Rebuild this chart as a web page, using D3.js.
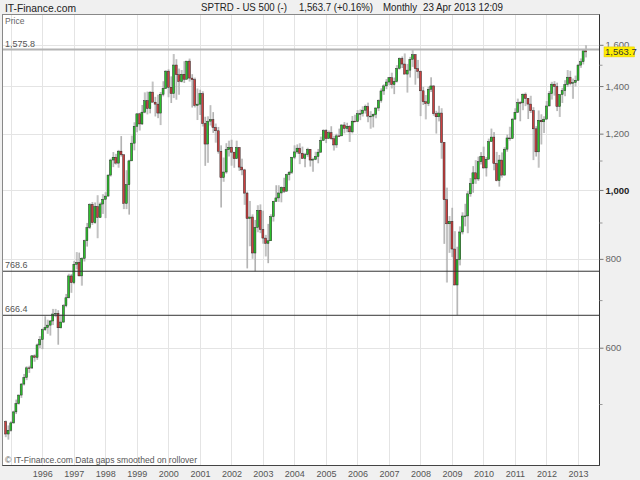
<!DOCTYPE html>
<meta charset="utf-8">
<style>
body { margin: 0; background: #f0f0f0; }
svg { display: block; font-family: "Liberation Sans", Arial, sans-serif; }
</style>
<body>
<script src="https://cdnjs.cloudflare.com/ajax/libs/d3/7.8.5/d3.min.js"></script>
<script>
// monthly candles, Nov 1994 .. Apr 2013
var firstMonth = [1994, 10];
var firstOpen = 472.4;

var closes = [
  453.7, 459.3,
  470.4, 487.4, 500.7, 514.7, 533.4, 544.8, 562.1, 561.9, 584.4, 581.5, 605.4, 615.9,
  636.0, 640.4, 645.5, 654.2, 669.1, 670.6, 640.0, 652.0, 687.3, 705.3, 757.0, 740.7,
  786.2, 790.8, 757.1, 801.3, 848.3, 885.1, 954.3, 899.5, 947.3, 914.6, 955.4, 970.4,
  980.3, 1049.3, 1101.8, 1111.8, 1090.8, 1133.8, 1120.7, 957.3, 1017.0, 1098.7, 1163.6, 1229.2,
  1279.6, 1238.3, 1286.4, 1335.2, 1301.8, 1372.7, 1328.7, 1320.4, 1282.7, 1362.9, 1388.9, 1469.3,
  1394.5, 1366.4, 1498.6, 1452.4, 1420.6, 1454.6, 1430.8, 1517.7, 1436.5, 1429.4, 1315.0, 1320.3,
  1366.0, 1239.9, 1160.3, 1249.5, 1255.8, 1224.4, 1211.2, 1133.6, 1040.9, 1059.8, 1139.5, 1148.1,
  1130.2, 1106.7, 1147.4, 1076.9, 1067.1, 989.8, 911.6, 916.1, 815.3, 885.8, 936.3, 879.8,
  855.7, 841.2, 848.2, 916.9, 963.6, 974.5, 990.3, 1008.0, 996.0, 1050.7, 1058.2, 1111.9,
  1131.1, 1144.9, 1126.2, 1107.3, 1120.7, 1140.8, 1101.7, 1104.2, 1114.6, 1130.2, 1173.8, 1211.9,
  1181.3, 1203.6, 1180.6, 1156.9, 1191.5, 1191.3, 1234.2, 1220.3, 1228.8, 1207.0, 1249.5, 1248.3,
  1280.1, 1280.7, 1294.8, 1310.6, 1270.1, 1270.2, 1276.7, 1303.8, 1335.9, 1377.9, 1400.6, 1418.3,
  1438.2, 1406.8, 1420.9, 1482.4, 1530.6, 1503.4, 1455.3, 1474.0, 1526.8, 1549.4, 1481.1, 1468.4,
  1378.6, 1330.6, 1322.7, 1385.6, 1400.4, 1280.0, 1267.4, 1282.8, 1166.4, 968.8, 896.2, 903.3,
  825.9, 735.1, 797.9, 872.8, 919.1, 919.3, 987.5, 1020.6, 1057.1, 1036.2, 1095.6, 1115.1,
  1073.9, 1104.5, 1169.4, 1186.7, 1089.4, 1030.7, 1101.6, 1049.3, 1141.2, 1183.3, 1180.6, 1257.6,
  1286.1, 1327.2, 1325.8, 1363.6, 1345.2, 1320.6, 1292.3, 1218.9, 1131.4, 1253.3, 1247.0, 1257.6,
  1312.4, 1365.7, 1408.5, 1397.9, 1310.3, 1362.2, 1379.3, 1406.6, 1440.7, 1412.2, 1416.2, 1426.2,
  1498.1, 1514.7, 1569.2, 1563.7
];

var highs = [
  474.0, 466.5,
  472.8, 489.2, 507.2, 515.3, 534.9, 551.1, 565.0, 565.9, 585.7, 587.1, 608.0, 622.9,
  638.5, 664.2, 656.9, 656.3, 680.3, 680.3, 677.5, 668.2, 690.9, 714.1, 762.3, 761.8,
  794.7, 817.7, 816.3, 804.1, 851.1, 898.7, 957.7, 961.6, 960.3, 983.1, 960.4, 986.3,
  992.7, 1051.0, 1106.6, 1130.5, 1124.0, 1138.5, 1190.6, 1121.0, 1066.1, 1102.6, 1192.3, 1244.9,
  1280.4, 1283.8, 1316.6, 1371.6, 1375.0, 1376.1, 1420.3, 1351.8, 1361.3, 1373.2, 1422.0, 1473.0,
  1478.0, 1444.6, 1552.9, 1527.2, 1481.5, 1474.6, 1517.3, 1518.5, 1530.1, 1454.8, 1438.5, 1389.1,
  1383.4, 1376.4, 1267.4, 1269.3, 1315.9, 1286.6, 1239.8, 1226.3, 1155.4, 1110.6, 1163.4, 1173.0,
  1176.6, 1130.2, 1173.0, 1147.8, 1106.6, 1070.7, 994.5, 965.0, 924.0, 907.4, 951.6, 954.3,
  935.1, 864.6, 895.9, 924.2, 965.4, 1015.3, 1015.4, 1011.0, 1040.3, 1053.8, 1063.6, 1112.6,
  1155.4, 1158.9, 1163.2, 1150.6, 1127.7, 1146.3, 1140.8, 1109.7, 1131.5, 1142.0, 1188.5, 1217.3,
  1217.8, 1212.4, 1229.1, 1191.9, 1199.6, 1219.6, 1236.2, 1245.9, 1243.1, 1233.3, 1270.6, 1275.8,
  1294.9, 1297.6, 1310.9, 1318.2, 1326.7, 1290.7, 1280.4, 1306.7, 1340.3, 1389.5, 1407.9, 1431.8,
  1441.6, 1461.6, 1438.9, 1498.0, 1535.6, 1540.6, 1555.9, 1503.9, 1538.7, 1576.1, 1552.8, 1523.6,
  1471.8, 1396.0, 1359.7, 1397.0, 1440.2, 1404.1, 1292.2, 1313.2, 1303.0, 1167.0, 1007.5, 918.9,
  943.9, 875.0, 832.0, 888.7, 930.2, 956.2, 996.7, 1039.5, 1080.2, 1101.4, 1113.7, 1130.4,
  1150.5, 1112.4, 1180.7, 1219.8, 1206.0, 1131.2, 1120.0, 1129.2, 1148.7, 1196.1, 1227.1, 1262.6,
  1302.7, 1344.1, 1332.3, 1366.1, 1370.6, 1345.2, 1356.5, 1307.4, 1229.3, 1293.5, 1277.6, 1269.4,
  1333.5, 1378.0, 1419.2, 1422.4, 1415.3, 1363.5, 1391.7, 1426.7, 1474.5, 1470.9, 1434.3, 1448.0,
  1504.2, 1530.9, 1570.3, 1597.4
];

var lows = [
  449.1, 445.5,
  457.2, 469.0, 484.0, 499.2, 510.0, 530.9, 540.2, 553.0, 560.1, 573.4, 576.9, 599.4,
  597.3, 633.8, 627.6, 624.1, 645.6, 662.4, 605.9, 638.5, 650.0, 684.0, 703.8, 716.7,
  737.0, 773.4, 756.1, 733.5, 793.2, 832.5, 881.3, 893.0, 896.5, 855.3, 914.6, 925.3,
  912.8, 979.8, 1044.4, 1076.7, 1085.7, 1074.7, 1114.3, 939.9, 939.9, 923.3, 1098.7, 1136.9,
  1205.5, 1212.2, 1234.6, 1282.0, 1277.3, 1281.4, 1328.8, 1268.7, 1261.7, 1233.7, 1354.1, 1387.4,
  1350.1, 1325.1, 1346.6, 1339.4, 1361.1, 1416.6, 1413.9, 1431.9, 1420.4, 1305.8, 1306.2, 1254.1,
  1274.6, 1228.3, 1081.2, 1091.9, 1232.0, 1203.0, 1165.5, 1124.9, 944.8, 1026.8, 1054.3, 1114.5,
  1081.7, 1074.4, 1106.7, 1063.5, 1048.9, 952.9, 775.7, 833.4, 800.2, 768.6, 872.1, 869.5,
  840.3, 806.3, 788.9, 847.9, 902.8, 963.6, 962.1, 960.8, 990.4, 996.0, 1031.2, 1053.4,
  1105.1, 1124.4, 1087.2, 1106.9, 1076.3, 1113.3, 1078.8, 1060.7, 1101.3, 1090.2, 1127.6, 1173.8,
  1163.8, 1180.9, 1176.8, 1136.2, 1146.2, 1188.3, 1191.3, 1201.1, 1205.4, 1168.2, 1201.1, 1246.6,
  1245.7, 1253.6, 1268.4, 1280.7, 1245.3, 1219.3, 1224.5, 1261.3, 1290.9, 1326.9, 1360.7, 1385.9,
  1403.9, 1389.0, 1363.8, 1416.4, 1476.7, 1484.2, 1454.3, 1370.6, 1439.3, 1489.6, 1406.1, 1435.6,
  1270.1, 1316.8, 1256.9, 1312.0, 1373.1, 1272.0, 1200.4, 1248.6, 1106.4, 839.8, 741.0, 815.7,
  804.5, 734.5, 666.8, 783.3, 866.1, 888.9, 869.3, 978.5, 991.0, 1019.9, 1029.4, 1085.9,
  1071.6, 1044.5, 1105.4, 1170.7, 1065.8, 1028.3, 1010.9, 1040.8, 1048.2, 1131.9, 1173.0, 1186.6,
  1257.6, 1282.9, 1249.1, 1294.7, 1311.8, 1258.1, 1282.9, 1101.5, 1114.2, 1074.8, 1158.7, 1202.4,
  1258.9, 1312.4, 1340.0, 1357.4, 1291.0, 1266.7, 1325.4, 1354.7, 1396.6, 1403.3, 1343.4, 1398.1,
  1426.2, 1485.0, 1501.5, 1536.0
];

var yearLabels = [1996, 1997, 1998, 1999, 2000, 2001, 2002, 2003, 2004, 2005,
                  2006, 2007, 2008, 2009, 2010, 2011, 2012, 2013];
var gridYears = [1995].concat(yearLabels);
var priceTicks = [600, 800, 1000, 1200, 1400, 1600];
var minorTicks = [500, 700, 900, 1100, 1500];
var levels = [1575.8, 768.6, 666.4];
var lastPrice = 1563.7;

var W = 640, H = 480;
var pLeft = 2.5, pRight = 599.5, pTop = 14.5, pBottom = 465.5;

var x = d3.scaleTime()
  .domain([new Date(1996, 0, 1), new Date(2013, 0, 1)])
  .range([42.3, 578]);
var y = d3.scaleLog()
  .domain([410, 1765])
  .range([465.3, 14.5]);

var candles = closes.map(function(c, i) {
  return {
    date: new Date(firstMonth[0], firstMonth[1] + i, 1),
    open: i ? closes[i - 1] : firstOpen,
    high: highs[i],
    low: lows[i],
    close: c
  };
});

var svg = d3.select("body").append("svg")
  .attr("width", W)
  .attr("height", H);

svg.append("rect").attr("width", W).attr("height", H).attr("fill", "#f0f0f0");

svg.append("defs").append("clipPath").attr("id", "plot")
  .append("rect")
  .attr("x", pLeft).attr("y", pTop)
  .attr("width", pRight - pLeft).attr("height", pBottom - pTop);

svg.append("rect")
  .attr("x", pLeft).attr("y", pTop)
  .attr("width", pRight - pLeft).attr("height", pBottom - pTop)
  .attr("fill", "#fff");

// grid
var snap = function(v) { return Math.round(v) + 0.5; };
svg.append("g").selectAll("line")
  .data(gridYears)
  .enter().append("line")
  .attr("x1", function(d) { return snap(x(new Date(d, 0, 1))); })
  .attr("x2", function(d) { return snap(x(new Date(d, 0, 1))); })
  .attr("y1", pTop).attr("y2", pBottom)
  .attr("stroke", "#e4e4e4");

svg.append("g").selectAll("line")
  .data(priceTicks)
  .enter().append("line")
  .attr("x1", pLeft).attr("x2", pRight)
  .attr("y1", function(d) { return snap(y(d)); })
  .attr("y2", function(d) { return snap(y(d)); })
  .attr("stroke", "#e4e4e4");

// candles
var cg = svg.append("g").attr("clip-path", "url(#plot)");
var bw = 2;

cg.selectAll("line.wick")
  .data(candles)
  .enter().append("line")
  .attr("class", "wick")
  .attr("x1", function(d) { return x(d.date) + 0.6; })
  .attr("x2", function(d) { return x(d.date) + 0.6; })
  .attr("y1", function(d) { return y(d.high); })
  .attr("y2", function(d) { return y(d.low); })
  .attr("stroke", "#b4b4b4")
  .attr("stroke-width", 1);

cg.selectAll("line.wick2")
  .data(candles)
  .enter().append("line")
  .attr("class", "wick2")
  .attr("x1", function(d) { return x(d.date) - 0.3; })
  .attr("x2", function(d) { return x(d.date) - 0.3; })
  .attr("y1", function(d) { return y(d.high); })
  .attr("y2", function(d) { return y(d.low); })
  .attr("stroke", "#777")
  .attr("stroke-width", 0.4);

cg.selectAll("rect.body")
  .data(candles)
  .enter().append("rect")
  .attr("class", "body")
  .attr("x", function(d) { return x(d.date) - bw / 2; })
  .attr("width", bw)
  .attr("y", function(d) { return y(Math.max(d.open, d.close)); })
  .attr("height", function(d) { return Math.max(0.8, Math.abs(y(d.open) - y(d.close))); })
  .attr("fill", function(d) { return d.close >= d.open ? "#2cc02c" : "#cc4040"; })
  .attr("stroke", "#222")
  .attr("stroke-width", 0.45);

// level lines
svg.append("g").selectAll("line")
  .data(levels)
  .enter().append("line")
  .attr("x1", pLeft).attr("x2", pRight)
  .attr("y1", function(d) { return y(d); })
  .attr("y2", function(d) { return y(d); })
  .attr("stroke", function(d, i) { return i ? "#333" : "#b4b4b4"; })
  .attr("stroke-width", function(d, i) { return i ? 1 : 2; });

svg.append("g").selectAll("text")
  .data(levels)
  .enter().append("text")
  .attr("x", 5)
  .attr("y", function(d) { return y(d) - 3; })
  .attr("font-size", 9)
  .attr("fill", "#555")
  .text(d3.format(",.1f"));

// frame
svg.append("rect")
  .attr("x", pLeft).attr("y", pTop)
  .attr("width", pRight - pLeft).attr("height", pBottom - pTop)
  .attr("fill", "none")
  .attr("stroke", "#888");
svg.append("line")
  .attr("x1", pRight).attr("x2", pRight).attr("y1", pTop).attr("y2", pBottom)
  .attr("stroke", "#333");
svg.append("line")
  .attr("x1", pLeft).attr("x2", pRight).attr("y1", pBottom).attr("y2", pBottom)
  .attr("stroke", "#444");

// axes
var yAxis = svg.append("g")
  .attr("transform", "translate(" + pRight + ",0)")
  .call(d3.axisRight(y).tickValues(priceTicks).tickSize(4).tickPadding(2)
    .tickFormat(d3.format(",")));
yAxis.select(".domain").remove();
yAxis.selectAll("line").attr("stroke", "#777");
yAxis.selectAll("text")
  .attr("font-family", "Liberation Sans, Arial, sans-serif")
  .attr("font-size", 9.5)
  .attr("fill", function(d) { return d === 1000 ? "#222" : "#666"; })
  .attr("font-weight", function(d) { return d === 1000 ? "bold" : "normal"; });

var yMinor = svg.append("g")
  .attr("transform", "translate(" + pRight + ",0)")
  .call(d3.axisRight(y).tickValues(minorTicks).tickSize(3).tickFormat(""));
yMinor.select(".domain").remove();
yMinor.selectAll("line").attr("stroke", "#999");

var xAxis = svg.append("g")
  .attr("transform", "translate(0," + pBottom + ")")
  .call(d3.axisBottom(x)
    .tickValues(yearLabels.map(function(d) { return new Date(d, 0, 1); }))
    .tickSize(0).tickPadding(5)
    .tickFormat(d3.timeFormat("%Y")));
xAxis.select(".domain").remove();
xAxis.selectAll("text")
  .attr("font-family", "Liberation Sans, Arial, sans-serif")
  .attr("font-size", 9)
  .attr("fill", "#555");

// last price marker (covers the lower half of the 1,600 label, as in the source)
var ly = y(lastPrice);
svg.append("rect")
  .attr("x", 604).attr("y", ly - 5)
  .attr("width", 30.5).attr("height", 10)
  .attr("fill", "#ffee00")
  .attr("stroke", "#e6c800")
  .attr("stroke-width", 0.5);
svg.append("text")
  .attr("x", 605).attr("y", ly + 3.3)
  .attr("font-size", 9.5)
  .attr("fill", "#333")
  .text(d3.format(",.1f")(lastPrice));

// texts
svg.append("text").attr("x", 5).attr("y", 24)
  .attr("font-size", 8.5).attr("fill", "#666").text("Price");

svg.append("text").attr("x", 5).attr("y", 463)
  .attr("font-size", 9.5).attr("fill", "#555")
  .attr("textLength", 192).attr("lengthAdjust", "spacingAndGlyphs")
  .text("\u00a9 IT-Finance.com  Data gaps smoothed on rollover");

svg.append("text").attr("x", 5).attr("y", 11.5)
  .attr("font-size", 11).attr("fill", "#222")
  .attr("textLength", 71).attr("lengthAdjust", "spacingAndGlyphs")
  .text("IT-Finance.com");

var header = [
  {t: "SPTRD - US 500 (-)", x: 201, w: 86},
  {t: "1,563.7 (+0.16%)", x: 299, w: 74},
  {t: "Monthly", x: 383, w: 34},
  {t: "23 Apr 2013 12:09", x: 423, w: 80}
];
svg.append("g").selectAll("text")
  .data(header)
  .enter().append("text")
  .attr("x", function(d) { return d.x; })
  .attr("y", 11)
  .attr("font-size", 10.5)
  .attr("fill", "#222")
  .attr("textLength", function(d) { return d.w; })
  .attr("lengthAdjust", "spacingAndGlyphs")
  .text(function(d) { return d.t; });
</script>
</body>
